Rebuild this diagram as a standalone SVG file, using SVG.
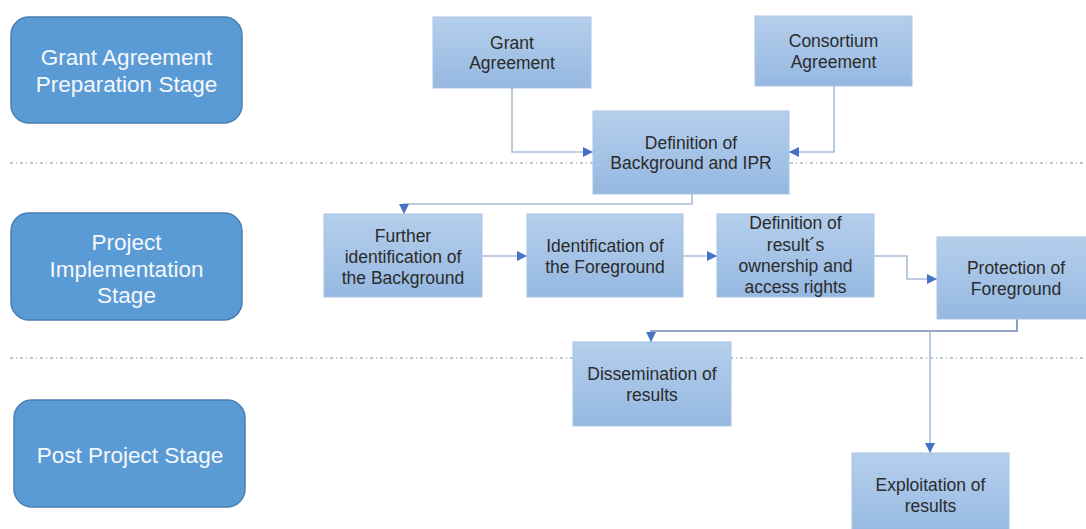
<svg xmlns="http://www.w3.org/2000/svg" width="1086" height="529" viewBox="0 0 1086 529">
  <style>
    .stage rect { fill: #5b9bd5; stroke: #4a7fb3; stroke-width: 1.5; }
    .stage text { fill: #f4f8fc; font-family: "Liberation Sans", Arial, sans-serif; font-size: 22.5px; text-anchor: middle; }
    .node rect { fill: url(#nodeGrad); stroke: #a9c4e6; stroke-width: 1; }
    .node text { fill: #2b2b2b; font-family: "Liberation Sans", Arial, sans-serif; font-size: 17.5px; text-anchor: middle; }
    .sep { stroke: #a3b6ca; stroke-width: 1.3; stroke-dasharray: 3 3 1 3; fill: none; }
    .conn { fill: none; stroke: #a9bdd6; stroke-width: 1.6; marker-end: url(#arrow); }
    .conn.dark { stroke: #6f8bbb; }
  </style>
  <defs>
    <linearGradient id="nodeGrad" x1="0" y1="0" x2="0" y2="1">
      <stop offset="0" stop-color="#b5cfec"/>
      <stop offset="1" stop-color="#95b8e1"/>
    </linearGradient>
    <marker id="arrow" markerUnits="userSpaceOnUse" markerWidth="10" markerHeight="10" viewBox="0 0 10 10" refX="10" refY="5" orient="auto">
      <path d="M0,0 L10,5 L0,10 z" fill="#4472c4"/>
    </marker>
  </defs>

  <g id="separators">
    <line class="sep" x1="10" y1="163" x2="1086" y2="163"/>
    <line class="sep" x1="10" y1="358" x2="1086" y2="358"/>
  </g>

  <g id="stage-grant" class="stage">
    <rect x="11" y="17" width="231" height="106" rx="18"/>
    <text x="126.5" y="65">Grant Agreement</text>
    <text x="126.5" y="92">Preparation Stage</text>
  </g>
  <g id="stage-implementation" class="stage">
    <rect x="11" y="213" width="231" height="107" rx="18"/>
    <text x="126.5" y="250">Project</text>
    <text x="126.5" y="277">Implementation</text>
    <text x="126.5" y="303">Stage</text>
  </g>
  <g id="stage-post" class="stage">
    <rect x="14" y="400" width="231" height="107" rx="18"/>
    <text x="130" y="463">Post Project Stage</text>
  </g>

  <g id="connectors">
    <path class="conn" d="M512,88 V152 H593"/>
    <path class="conn" d="M834,86 V152 H789"/>
    <path class="conn" d="M692,194 V204 H404 V214"/>
    <path class="conn" d="M482,256 H527"/>
    <path class="conn" d="M683,256 H717"/>
    <path class="conn" d="M874,256 H907 V279 H937"/>
    <path class="conn dark" d="M1017,319 V331 H651 V342"/>
    <path class="conn" d="M930,331 V453"/>
  </g>

  <g id="grant-agreement" class="node">
    <rect x="433" y="17" width="158" height="71"/>
    <text x="512" y="49">Grant</text>
    <text x="512" y="69">Agreement</text>
  </g>
  <g id="consortium-agreement" class="node">
    <rect x="755" y="16" width="157" height="70"/>
    <text x="833.5" y="47">Consortium</text>
    <text x="833.5" y="68">Agreement</text>
  </g>
  <g id="definition-background" class="node">
    <rect x="593" y="111" width="196" height="83"/>
    <text x="691" y="149">Definition of</text>
    <text x="691" y="169">Background and IPR</text>
  </g>
  <g id="further-identification" class="node">
    <rect x="324" y="214" width="158" height="83"/>
    <text x="403" y="242">Further</text>
    <text x="403" y="263">identification of</text>
    <text x="403" y="284">the Background</text>
  </g>
  <g id="identification-foreground" class="node">
    <rect x="527" y="214" width="156" height="83"/>
    <text x="605" y="252">Identification of</text>
    <text x="605" y="273">the Foreground</text>
  </g>
  <g id="definition-ownership" class="node">
    <rect x="717" y="214" width="157" height="83"/>
    <text x="795.5" y="229">Definition of</text>
    <text x="795.5" y="251">result´s</text>
    <text x="795.5" y="272">ownership and</text>
    <text x="795.5" y="293">access rights</text>
  </g>
  <g id="protection-foreground" class="node">
    <rect x="937" y="237" width="158" height="82"/>
    <text x="1016" y="274">Protection of</text>
    <text x="1016" y="295">Foreground</text>
  </g>
  <g id="dissemination" class="node">
    <rect x="573" y="342" width="158" height="84"/>
    <text x="652" y="380">Dissemination of</text>
    <text x="652" y="401">results</text>
  </g>
  <g id="exploitation" class="node">
    <rect x="852" y="453" width="157" height="84"/>
    <text x="930.5" y="491">Exploitation of</text>
    <text x="930.5" y="512">results</text>
  </g>
</svg>
